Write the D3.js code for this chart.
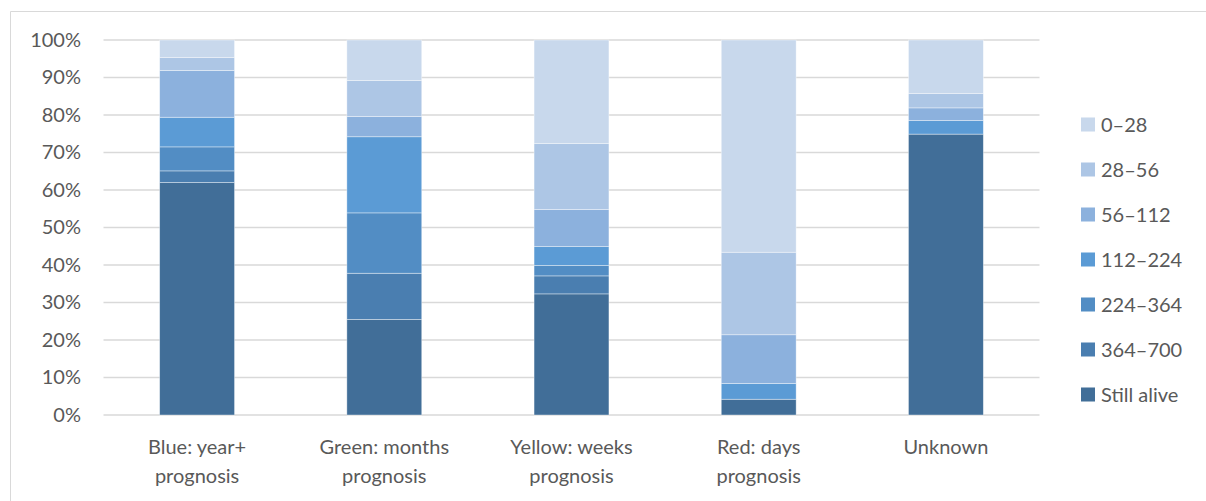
<!DOCTYPE html>
<html><head><meta charset="utf-8">
<script src="https://cdn.jsdelivr.net/npm/d3@7"></script>
<style>body{margin:0;background:#fff}svg{display:block}</style>
</head><body>
<svg id="c" width="1206" height="501"></svg>
<script>
const categories = [["Blue: year+","prognosis"],["Green: months","prognosis"],["Yellow: weeks","prognosis"],["Red: days","prognosis"],["Unknown"]];
const seriesNames = ["Still alive","364–700","224–364","112–224","56–112","28–56","0–28"];
const stillAlive = [62.0, 25.5, 32.3, 4.2, 74.9];
const d364_700   = [3.1, 12.3, 4.8, 0, 0];
const d224_364   = [6.4, 16.1, 2.8, 0, 0];
const d112_224   = [7.9, 20.3, 5.0, 4.2, 3.6];
const d56_112    = [12.5, 5.4, 9.9, 13.0, 3.4];
const d28_56     = [3.4, 9.6, 17.6, 22.0, 3.8];
const d0_28      = [4.7, 10.8, 27.6, 56.6, 14.3];
const tickValues = [0,10,20,30,40,50,60,70,80,90,100];
const colors = ["#416E98","#4A7EB0","#528DC4","#5B9BD5","#8CB1DD","#ADC6E5","#C8D8EC"];

const series = [stillAlive,d364_700,d224_364,d112_224,d56_112,d28_56,d0_28];
const rows = categories.map((c,i)=>{const r={cat:i}; seriesNames.forEach((s,j)=>r[s]=series[j][i]); return r;});
const stacked = d3.stack().keys(seriesNames).offset(d3.stackOffsetExpand)(rows);

const svg = d3.select("#c");
const font = "Lato, 'Open Sans', sans-serif";
const fs = 20;
// chart border (top & left visible)
svg.append("line").attr("x1",10.5).attr("x2",1206).attr("y1",11.5).attr("y2",11.5).attr("stroke","#D9D9D9");
svg.append("line").attr("x1",10.5).attr("x2",10.5).attr("y1",11.5).attr("y2",501).attr("stroke","#D9D9D9");

const x = d3.scaleBand().domain(d3.range(categories.length)).range([103.5,1039.5]).paddingInner(0.6).paddingOuter(0.3);
const y = d3.scaleLinear().domain([0,100]).range([415,40]);

// gridlines
svg.append("g").selectAll("line").data(tickValues).join("line")
  .attr("x1",103.5).attr("x2",1039.5).attr("y1",d=>y(d)).attr("y2",d=>y(d))
  .attr("stroke","#D9D9D9").attr("stroke-width",1.3);

// y axis labels
const yAxis = d3.axisLeft(y).tickValues(tickValues).tickFormat(d=>d+"%").tickSize(0).tickPadding(0);
const ga = svg.append("g").attr("transform","translate(81,0)").call(yAxis);
ga.select(".domain").remove();
ga.selectAll("text").attr("font-family",font).attr("font-size",fs).attr("fill","#595959");

// bars
svg.append("g").selectAll("g").data(stacked).join("g").attr("fill",(d,i)=>colors[i])
  .selectAll("rect").data(d=>d).join("rect")
  .attr("x",(d,i)=>x(i)).attr("width",x.bandwidth())
  .attr("y",d=>y(d[1]*100)).attr("height",d=>Math.max(0,y(d[0]*100)-y(d[1]*100)))
  .attr("stroke","#ffffff").attr("stroke-opacity",0.5).attr("stroke-width",0.75);

// x labels
const gx = svg.append("g");
categories.forEach((lines,i)=>{
  const t = gx.append("text").attr("x",x(i)+x.bandwidth()/2).attr("text-anchor","middle")
    .attr("font-family",font).attr("font-size",fs).attr("fill","#595959");
  lines.forEach((l,k)=>t.append("tspan").attr("x",x(i)+x.bandwidth()/2).attr("y",454+k*29).text(l));
});

// legend
const lg = svg.append("g");
const legendOrder = seriesNames.slice().reverse();
legendOrder.forEach((s,k)=>{
  const cy = 124.5 + k*45;
  lg.append("rect").attr("x",1081).attr("y",cy-7).attr("width",14).attr("height",14).attr("fill",colors[seriesNames.indexOf(s)]);
  lg.append("text").attr("x",1101).attr("y",cy+7).attr("font-family",font).attr("font-size",fs).attr("fill","#595959").text(s);
});
</script>
</body></html>
